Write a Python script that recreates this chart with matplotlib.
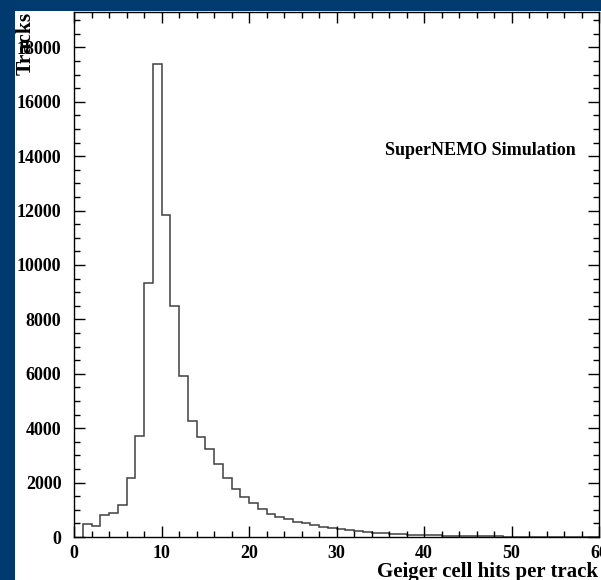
import numpy as np
import matplotlib
matplotlib.use('Agg')
import matplotlib.pyplot as plt
from matplotlib.patches import Rectangle
from matplotlib.ticker import MultipleLocator

# histogram data: hits per track (bin edges 1..60), counts
bin_edges = np.arange(1, 61)
counts = [480, 415, 820, 870, 1165, 2160, 3730, 9330, 17380, 11840,
          8500, 5930, 4280, 3665, 3220, 2670, 2160, 1750, 1480, 1240,
          1030, 835, 725, 660, 560, 500, 440, 380, 340, 295,
          260, 220, 190, 160, 140, 120, 105, 90, 78, 68,
          58, 50, 43, 37, 32, 28, 24, 20, 17, 15,
          13, 11, 9, 8, 7, 6, 5, 4, 3]

x_label = 'Geiger cell hits per track'
y_label = 'Tracks'
note = 'SuperNEMO Simulation'

plt.rcParams['font.family'] = ['Liberation Serif', 'DejaVu Serif']
plt.rcParams['font.weight'] = 'bold'
plt.rcParams['xtick.labelsize'] = 13
plt.rcParams['ytick.labelsize'] = 13

W, H = 601, 580
fig = plt.figure(figsize=(W / 100, H / 100), dpi=100, facecolor='#003a6e')

# white panel on the blue slide background
fig.patches.append(Rectangle((15 / W, 0), 1 - 15 / W, 1 - 11 / H,
                             transform=fig.transFigure, facecolor='white',
                             edgecolor='none', zorder=-10))

ax = fig.add_axes([74 / W, 43 / H, 525 / W, 525 / H])
ax.set_facecolor('white')

ax.stairs(counts, bin_edges, baseline=0, color='#404040', linewidth=1.1)

ax.set_xlim(0, 60)
ax.set_ylim(0, 19300)
ax.xaxis.set_major_locator(MultipleLocator(10))
ax.xaxis.set_minor_locator(MultipleLocator(2))
ax.yaxis.set_major_locator(MultipleLocator(2000))
ax.yaxis.set_minor_locator(MultipleLocator(500))

ax.tick_params(which='both', direction='in', top=True, right=True,
               colors='black', width=1)
ax.tick_params(which='major', length=8)
ax.tick_params(which='minor', length=4.5)
ax.tick_params(axis='x', pad=6)
ax.tick_params(axis='y', pad=9)
for lab in ax.get_xticklabels() + ax.get_yticklabels():
    lab.set_fontweight('bold')
    lab.set_fontsize(13)
for sp in ax.spines.values():
    sp.set_linewidth(1)

fig.text(1 - 3 / W, 3 / H, x_label, ha='right', va='baseline',
         fontsize=15, fontweight='bold')
fig.text(16 / W, 1 - 12 / H, y_label, rotation=90, ha='left', va='top',
         fontsize=15.5, fontweight='bold')
ax.text(0.955, 0.728, note, transform=ax.transAxes, ha='right',
        va='baseline', fontsize=13, fontweight='bold')

fig.savefig('out.png', dpi=100, facecolor=fig.get_facecolor())
